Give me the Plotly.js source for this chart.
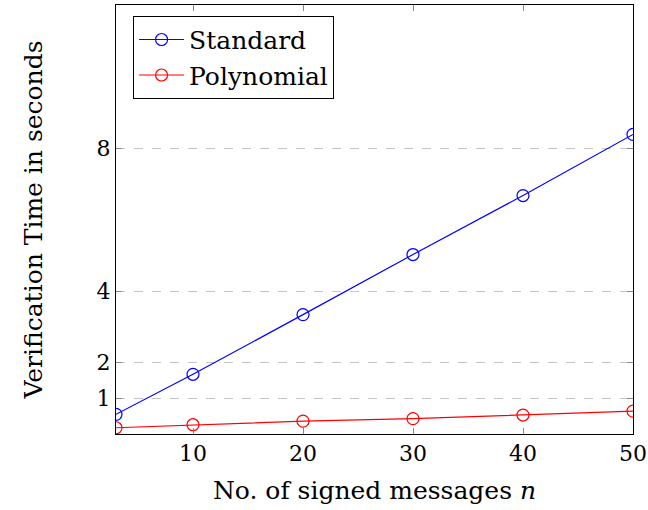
<!DOCTYPE html>
<html>
<head>
<meta charset="utf-8">
<script src="https://cdn.plot.ly/plotly-3.0.1.min.js"></script>
<style>body{margin:0;background:#fff}#chart{width:648px;height:510px}</style>
</head>
<body>
<div id="chart"></div>
<script>
const messages = [3, 10, 20, 30, 40, 50];
const standardTimes = [0.55, 1.67, 3.34, 5.02, 6.67, 8.38];
const polynomialTimes = [0.175, 0.26, 0.36, 0.43, 0.53, 0.64];
const yTicks = [1, 2, 4, 8];
const xTicks = [10, 20, 30, 40, 50];

const font = "DejaVu Serif, serif";
const traces = [
  {x: messages, y: standardTimes, name: "Standard", mode: "lines+markers",
   line: {color: "#0000ff", width: 1.2},
   marker: {symbol: "circle-open", size: 12, color: "#0000ff", line: {width: 1.2}}},
  {x: messages, y: polynomialTimes, name: "Polynomial", mode: "lines+markers",
   line: {color: "#ff0000", width: 1.2},
   marker: {symbol: "circle-open", size: 12, color: "#ff0000", line: {width: 1.2}}}
];
const layout = {
  width: 648, height: 510,
  margin: {l: 116, r: 15, t: 5, b: 76},
  paper_bgcolor: "#fff", plot_bgcolor: "#fff",
  font: {family: font, color: "#000", size: 22},
  showlegend: true,
  legend: {x: 0.033, y: 0.975, xanchor: "left", yanchor: "top",
    bordercolor: "#000", borderwidth: 1, bgcolor: "#fff", itemwidth: 45,
    font: {family: font, size: 25}, tracegroupgap: 0},
  xaxis: {range: [3, 50], tickvals: xTicks, ticktext: xTicks.map(String),
    showgrid: false, zeroline: false, showline: true, linecolor: "#000", linewidth: 1,
    mirror: "ticks", ticks: "inside", ticklen: 6, tickcolor: "#888",
    tickfont: {family: font, size: 22},
    title: {text: "No. of signed messages <i>n</i>", font: {family: font, size: 25}, standoff: 16}},
  yaxis: {range: [0, 12], tickvals: yTicks, ticktext: yTicks.map(String),
    showgrid: true, gridcolor: "#c4c4c4", griddash: "dash", gridwidth: 1,
    zeroline: false, showline: true, linecolor: "#000", linewidth: 1,
    mirror: "ticks", ticks: "inside", ticklen: 6, tickcolor: "#888",
    tickfont: {family: font, size: 22},
    title: {text: "Verification Time in seconds", font: {family: font, size: 25}, standoff: 46}}
};
Plotly.newPlot("chart", traces, layout, {displayModeBar: false, staticPlot: true});
</script>
</body>
</html>
